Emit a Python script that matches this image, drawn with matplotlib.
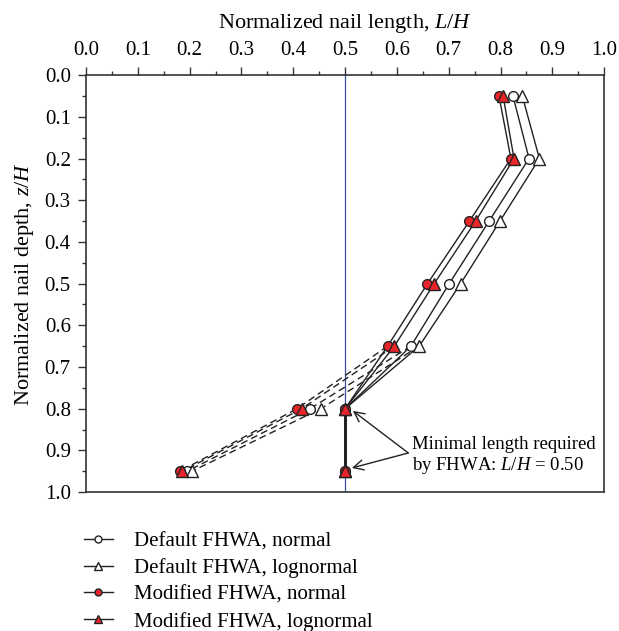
import numpy as np
import matplotlib.pyplot as plt
from matplotlib.ticker import MultipleLocator

plt.rcParams['font.family'] = 'Liberation Serif'
plt.rcParams['mathtext.fontset'] = 'custom'
plt.rcParams['mathtext.it'] = 'Liberation Serif:italic'
plt.rcParams['mathtext.rm'] = 'Liberation Serif'

depth = [0.05, 0.2, 0.35, 0.5, 0.65, 0.8, 0.95]
default_normal = [0.824, 0.855, 0.778, 0.701, 0.627, 0.432, 0.195]
default_lognormal = [0.842, 0.875, 0.799, 0.723, 0.643, 0.453, 0.204]
modified_normal = [0.797, 0.820, 0.740, 0.659, 0.582, 0.407, 0.181]
modified_lognormal = [0.805, 0.826, 0.752, 0.672, 0.595, 0.416, 0.186]
min_length = 0.5

series = [
    ('Default FHWA, normal', default_normal, 'o', 'white'),
    ('Default FHWA, lognormal', default_lognormal, '^', 'white'),
    ('Modified FHWA, normal', modified_normal, 'o', '#e8252a'),
    ('Modified FHWA, lognormal', modified_lognormal, '^', '#e8252a'),
]

fig = plt.figure(figsize=(6.19, 6.31), dpi=100)
ax = fig.add_axes([0.139, 0.220, 0.837, 0.661])

ax.axvline(min_length, color='#3b4fa0', lw=0.9, zorder=1)

handles = []
for i, (label, vals, mk, fc) in enumerate(series):
    vals = np.array(vals)
    d = np.array(depth)
    z = 3 + i
    # solid part down to 0.65
    ax.plot(vals[:5], d[:5], color='#222222', lw=1.0, zorder=z)
    # dashed: computed lengths below
    ax.plot(vals[4:], d[4:], color='#222222', lw=1.0, ls=(0, (5, 3)), zorder=z)
    # solid: constrained to minimum length
    constr = np.maximum(vals[5:], min_length)
    ax.plot([vals[4], constr[0]], [d[4], d[5]], color='#222222', lw=1.0, zorder=z)
    ax.plot(constr, d[5:], color='#222222', lw=2.0, zorder=z)
    ms = 7 if mk == 'o' else 8
    ax.plot(vals, d, ls='none', marker=mk, ms=ms, mfc=fc, mec='#222222', mew=1.0, zorder=10 + i)
    ax.plot(constr, d[5:], ls='none', marker=mk, ms=ms, mfc=fc, mec='#222222', mew=1.0, zorder=10 + i)
    h, = ax.plot([], [], color='#222222', lw=1.0, marker=mk, ms=ms - 2, mfc=fc, mec='#222222',
                 mew=1.0, label=label)
    handles.append(h)

ax.set_xlim(0, 1)
ax.set_ylim(1, 0)
ax.xaxis.tick_top()
ax.xaxis.set_label_position('top')
ax.xaxis.set_major_locator(MultipleLocator(0.1))
ax.xaxis.set_minor_locator(MultipleLocator(0.05))
ax.yaxis.set_major_locator(MultipleLocator(0.1))
ax.yaxis.set_minor_locator(MultipleLocator(0.05))
ax.xaxis.set_major_formatter(plt.FormatStrFormatter('%.1f'))
ax.yaxis.set_major_formatter(plt.FormatStrFormatter('%.1f'))
ax.tick_params(which='major', direction='out', length=6, width=1.0, labelsize=15,
               color='#333333', pad=5)
ax.tick_params(which='minor', direction='out', length=3, width=1.0, color='#333333')
for s in ax.spines.values():
    s.set_linewidth(1.2)
    s.set_color('#333333')

ax.set_xlabel('Normalized nail length, $L/H$', fontsize=16, labelpad=9)
ax.set_ylabel('Normalized nail depth, $z/H$', fontsize=16, labelpad=6)

ax.text(0.629, 0.913, 'Minimal length required\nby FHWA: $L/H$ = 0.50', fontsize=13.5,
        va='center', ha='left', linespacing=1.1, zorder=20)
for tip in [(0.515, 0.805), (0.513, 0.942)]:
    ax.annotate('', xy=tip, xytext=(0.622, 0.906),
                arrowprops=dict(arrowstyle='->', lw=1.0, color='#222222',
                                mutation_scale=18, shrinkA=0, shrinkB=0), zorder=20)

fig.legend(handles=handles, loc='upper left', bbox_to_anchor=(0.135, 0.157),
           frameon=False, fontsize=15, handlelength=1.4, handletextpad=1.0,
           labelspacing=0.33, borderaxespad=0, borderpad=0)

fig.savefig('out.png', dpi=100)
